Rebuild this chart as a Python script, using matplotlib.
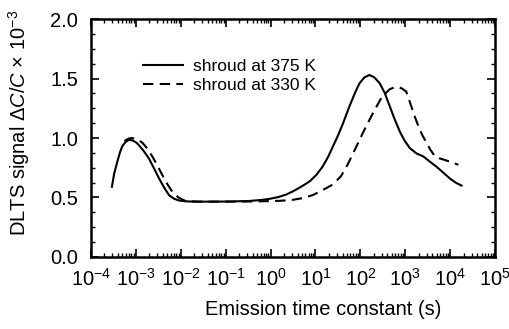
import numpy as np
import matplotlib
matplotlib.use("Agg")
import matplotlib.pyplot as plt
from matplotlib.ticker import LogLocator, AutoMinorLocator, NullFormatter

plt.rcParams['font.family'] = ['Liberation Sans', 'DejaVu Sans']
plt.rcParams['mathtext.fontset'] = 'custom'
plt.rcParams['mathtext.rm'] = 'Liberation Sans'
plt.rcParams['mathtext.it'] = 'Liberation Sans:italic'

# data (log10 of time constant, signal x 1e-3)
log_t_375 = [-3.53, -3.48, -3.41, -3.35, -3.30, -3.23, -3.15, -3.07, -2.98, -2.93,
             -2.82, -2.71, -2.60, -2.48, -2.37, -2.26, -2.15, -2.04, -1.90, -1.7,
             -1.3, -1.0, -0.5, -0.18, 0.0, 0.19, 0.35, 0.49, 0.68, 0.87,
             1.02, 1.16, 1.28, 1.39, 1.50, 1.61, 1.76, 1.88, 1.98, 2.09,
             2.20, 2.31, 2.43, 2.54, 2.65, 2.76, 2.875, 2.98, 3.10, 3.25,
             3.40, 3.55, 3.69, 3.84, 3.99, 4.12, 4.25]
sig_375 = [0.59, 0.70, 0.80, 0.88, 0.93, 0.965, 0.985, 0.98, 0.96, 0.94,
           0.89, 0.83, 0.75, 0.66, 0.585, 0.52, 0.49, 0.475, 0.468, 0.465,
           0.465, 0.466, 0.47, 0.48, 0.49, 0.505, 0.525, 0.55, 0.59, 0.635,
           0.69, 0.76, 0.84, 0.93, 1.02, 1.12, 1.27, 1.38, 1.46, 1.51,
           1.53, 1.51, 1.46, 1.38, 1.27, 1.16, 1.056, 0.98, 0.915, 0.87,
           0.845, 0.80, 0.76, 0.71, 0.66, 0.625, 0.60]

log_t_330 = [-3.25, -3.16, -3.08, -2.97, -2.85, -2.74, -2.63, -2.52, -2.41, -2.30,
             -2.19, -2.05, -1.89, -1.6, -1.0, -0.5, -0.18, 0.2, 0.49, 0.72,
             0.94, 1.15, 1.39, 1.57, 1.72, 1.90, 2.09, 2.28, 2.47, 2.65,
             2.75, 2.84, 2.93, 3.02, 3.13, 3.20, 3.28, 3.37, 3.47, 3.56,
             3.66, 3.75, 3.84, 4.0, 4.18]
sig_330 = [0.975, 0.995, 1.0, 0.99, 0.96, 0.91, 0.845, 0.77, 0.69, 0.615,
           0.55, 0.50, 0.47, 0.465, 0.465, 0.466, 0.468, 0.472, 0.48, 0.495,
           0.52, 0.56, 0.61, 0.68, 0.78, 0.92, 1.07, 1.21, 1.34, 1.41,
           1.425, 1.43, 1.415, 1.39, 1.27, 1.19, 1.11, 1.03, 0.96, 0.90,
           0.845, 0.83, 0.82, 0.80, 0.775]

t_375 = 10.0 ** np.array(log_t_375)
t_330 = 10.0 ** np.array(log_t_330)

fig = plt.figure(figsize=(5.10, 3.29), dpi=100)
ax = fig.add_axes([0.178, 0.219, 0.793, 0.723])

ax.plot(t_375, sig_375, color='black', lw=1.5, label='shroud at 375 K')
ax.plot(t_330, sig_330, color='black', lw=1.5, dashes=(5, 3), label='shroud at 330 K')

ax.set_xscale('log')
ax.set_xlim(1e-4, 1e5)
ax.set_ylim(0, 2.0)
ax.set_xticks([10.0 ** k for k in range(-4, 6)])
ax.set_xticklabels(['10$^{%d}$' % k for k in range(-4, 6)])
ax.xaxis.set_minor_locator(LogLocator(base=10, subs=np.arange(2, 10), numticks=20))
ax.xaxis.set_minor_formatter(NullFormatter())
ax.set_yticks([0, 0.5, 1.0, 1.5, 2.0])
ax.set_yticklabels(['0.0', '0.5', '1.0', '1.5', '2.0'])
ax.yaxis.set_minor_locator(AutoMinorLocator(4))

ax.tick_params(which='both', direction='in', top=True, right=True, labelsize=14.5)
ax.tick_params(which='major', length=6, width=1.2)
ax.tick_params(which='minor', length=3, width=1.0)
ax.tick_params(axis='x', pad=8)
ax.tick_params(axis='y', pad=9)
for s in ax.spines.values():
    s.set_linewidth(1.8)

ax.set_xlabel('Emission time constant (s)', fontsize=14.5)
ax.set_ylabel(r'DLTS signal $\mathit{\Delta C/C}$ × 10$^{-3}$', fontsize=14.5)
ax.xaxis.set_label_coords(0.574, -0.18)
ax.yaxis.set_label_coords(-0.146, 0.563)

ax.legend(loc='upper left', bbox_to_anchor=(0.09, 0.90), frameon=False,
          fontsize=12.5, handlelength=2.3, handletextpad=0.6, labelspacing=0.25)

fig.savefig('out.png', dpi=100)
